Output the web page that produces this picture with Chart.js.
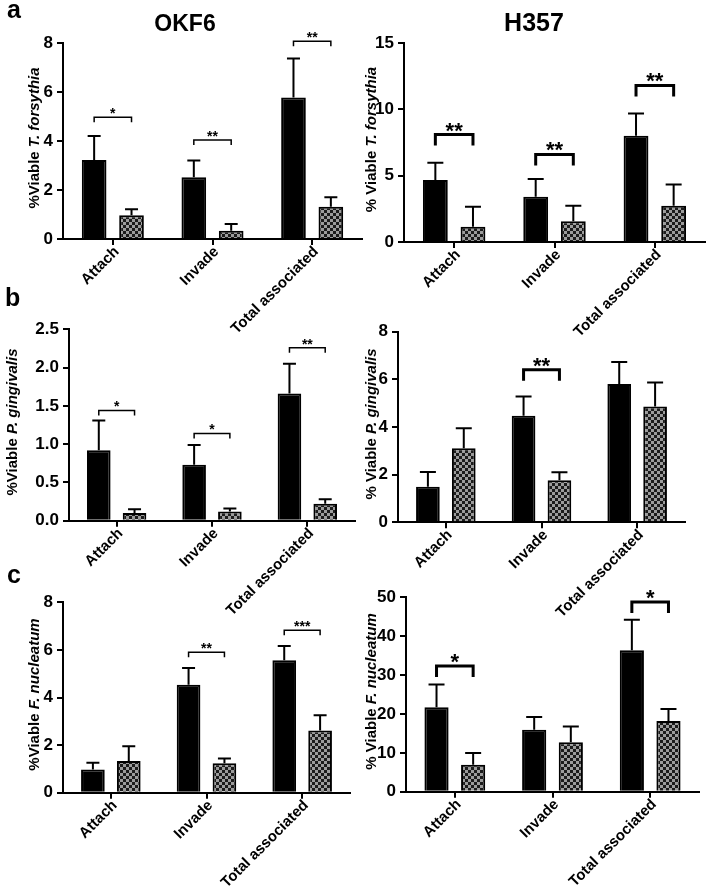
<!DOCTYPE html>
<html><head><meta charset="utf-8">
<script src="https://cdn.jsdelivr.net/npm/chart.js@4.4.1/dist/chart.umd.min.js"></script>
<style>
html,body{margin:0;padding:0;background:#fff;}
#wrap{position:relative;width:708px;height:893px;overflow:hidden;background:#fff;}
canvas{position:absolute;}
.lbl{position:absolute;font-family:'Liberation Sans',Arial,sans-serif;font-weight:bold;color:#000;line-height:1;white-space:nowrap;}
</style></head><body>
<div id="wrap">
<canvas id="cA1"></canvas><canvas id="cA2"></canvas>
<canvas id="cB1"></canvas><canvas id="cB2"></canvas>
<canvas id="cC1"></canvas><canvas id="cC2"></canvas>
<div class="lbl" style="left:7px;top:-3px;font-size:25px">a</div>
<div class="lbl" style="left:5px;top:285px;font-size:25px">b</div>
<div class="lbl" style="left:7px;top:562px;font-size:25px">c</div>
<div class="lbl" style="left:85px;top:12px;width:200px;text-align:center;font-size:23px">OKF6</div>
<div class="lbl" style="left:434px;top:10px;width:200px;text-align:center;font-size:25px">H357</div>
</div>
<script>
const FONT = "'Liberation Sans', Arial, sans-serif";
const categories = ['Attach', 'Invade', 'Total associated'];

// a: T. forsythia
const okf6TfBlack = [3.22, 2.52, 5.78];
const okf6TfBlackErr = [0.98, 0.68, 1.59];
const okf6TfCheck = [0.97, 0.34, 1.32];
const okf6TfCheckErr = [0.24, 0.27, 0.38];
const okf6TfSigCat = [0, 1, 2];
const okf6TfSigY = [4.97, 4.04, 8.07];
const okf6TfSigTxt = ['*', '**', '**'];

const h357TfBlack = [4.67, 3.41, 8.0];
const h357TfBlackErr = [1.30, 1.33, 1.68];
const h357TfCheck = [1.15, 1.56, 2.73];
const h357TfCheckErr = [1.51, 1.17, 1.61];
const h357TfSigCat = [0, 1, 2];
const h357TfSigY = [8.1, 6.6, 11.8];
const h357TfSigTxt = ['**', '**', '**'];

// b: P. gingivalis
const okf6PgBlack = [0.92, 0.73, 1.66];
const okf6PgBlackErr = [0.39, 0.26, 0.39];
const okf6PgCheck = [0.10, 0.12, 0.22];
const okf6PgCheckErr = [0.05, 0.04, 0.06];
const okf6PgSigCat = [0, 1, 2];
const okf6PgSigY = [1.44, 1.14, 2.26];
const okf6PgSigTxt = ['*', '*', '**'];

const h357PgBlack = [1.49, 4.47, 5.80];
const h357PgBlackErr = [0.62, 0.81, 0.93];
const h357PgCheck = [3.11, 1.76, 4.86];
const h357PgCheckErr = [0.84, 0.34, 1.01];
const h357PgSigCat = [1];
const h357PgSigY = [6.4];
const h357PgSigTxt = ['**'];

// c: F. nucleatum
const okf6FnBlack = [0.98, 4.54, 5.56];
const okf6FnBlackErr = [0.28, 0.70, 0.60];
const okf6FnCheck = [1.33, 1.24, 2.61];
const okf6FnCheckErr = [0.62, 0.20, 0.64];
const okf6FnSigCat = [1, 2];
const okf6FnSigY = [5.90, 6.83];
const okf6FnSigTxt = ['**', '***'];

const h357FnBlack = [21.7, 15.95, 36.4];
const h357FnBlackErr = [5.9, 3.25, 7.8];
const h357FnCheck = [6.94, 12.7, 18.2];
const h357FnCheckErr = [3.0, 4.1, 3.1];
const h357FnSigCat = [0, 2];
const h357FnSigY = [32.3, 48.8];
const h357FnSigTxt = ['*', '*'];

// y axis ticks
const yMaxA1 = 8, yStepA1 = 2;
const yMaxA2 = 15, yStepA2 = 5;
const yMaxB1 = 2.5, yStepB1 = 0.5;
const yMaxB2 = 8, yStepB2 = 2;
const yMaxC1 = 8, yStepC1 = 2;
const yMaxC2 = 50, yStepC2 = 10;

function checkerPattern(ctx){
  const c = document.createElement('canvas'); c.width = 6; c.height = 6;
  const g = c.getContext('2d');
  g.fillStyle = '#9c9c9c'; g.fillRect(0,0,6,6);
  g.fillStyle = '#1c1c1c'; g.fillRect(0,0,3,3); g.fillRect(3,3,3,3);
  return ctx.createPattern(c, 'repeat');
}

const annot = {
  id: 'annot',
  afterDatasetsDraw(chart, args, o) {
    const ctx = chart.ctx, ys = chart.scales.y;
    ctx.save();
    ctx.strokeStyle = '#000'; ctx.fillStyle = '#000';
    ctx.lineWidth = 2; ctx.lineCap = 'butt';
    o.errs.forEach((errArr, di) => {
      const meta = chart.getDatasetMeta(di);
      meta.data.forEach((bar, j) => {
        const v = chart.data.datasets[di].data[j];
        const yt = ys.getPixelForValue(v + errArr[j]);
        ctx.beginPath();
        ctx.moveTo(bar.x, bar.y); ctx.lineTo(bar.x, yt);
        ctx.moveTo(bar.x - o.cap/2, yt); ctx.lineTo(bar.x + o.cap/2, yt);
        ctx.stroke();
      });
    });
    // significance brackets
    const m0 = chart.getDatasetMeta(0), m1 = chart.getDatasetMeta(1);
    ctx.lineWidth = o.bw; ctx.lineJoin = 'miter';
    o.sigCat.forEach((ci, k) => {
      const xa = m0.data[ci].x, xb = m1.data[ci].x;
      const y = ys.getPixelForValue(o.sigY[k]);
      ctx.beginPath();
      ctx.moveTo(xa, y + o.leg); ctx.lineTo(xa, y); ctx.lineTo(xb, y); ctx.lineTo(xb, y + o.leg);
      ctx.stroke();
      ctx.font = `bold ${o.starSize}px ${FONT}`;
      ctx.textAlign = 'center'; ctx.textBaseline = 'alphabetic';
      ctx.fillText(o.sigTxt[k], (xa + xb)/2, y + o.starDy);
    });
    // y axis title with italic species
    const ca = chart.chartArea;
    ctx.translate(o.titleX, (ca.top + ca.bottom)/2 + o.titleDy);
    ctx.rotate(-Math.PI/2);
    ctx.textBaseline = 'middle'; ctx.textAlign = 'left';
    const f1 = `bold ${o.titleSize}px ${FONT}`, f2 = `italic bold ${o.titleSize}px ${FONT}`;
    ctx.font = f1; const w1 = ctx.measureText(o.prefix).width;
    ctx.font = f2; const w2 = ctx.measureText(o.species).width;
    const sx = -(w1 + w2)/2;
    ctx.font = f1; ctx.fillText(o.prefix, sx, 0);
    ctx.font = f2; ctx.fillText(o.species, sx + w1, 0);
    ctx.restore();
  }
};

function makePanel(p){
  const cv = document.getElementById(p.id);
  cv.width = p.W; cv.height = p.H;
  cv.style.left = p.L + 'px'; cv.style.top = p.T + 'px';
  cv.style.width = p.W + 'px'; cv.style.height = p.H + 'px';
  const ctx = cv.getContext('2d');
  const yW = p.x0 - p.L, xH = p.T + p.H - p.y1;
  const thin = p.style === 'thin';
  return new Chart(ctx, {
    type: 'bar',
    data: {
      labels: categories,
      datasets: [
        {data: p.black, backgroundColor: '#000', borderColor: '#000', borderWidth: 2,
         categoryPercentage: 0.75, barPercentage: 0.66},
        {data: p.check, backgroundColor: checkerPattern(ctx), borderColor: '#000', borderWidth: 2,
         categoryPercentage: 0.75, barPercentage: 0.66}
      ]
    },
    options: {
      responsive: false, animation: false, devicePixelRatio: 1,
      layout: {padding: {left: 0, bottom: 0, top: p.y0 - p.T, right: p.L + p.W - p.x1}},
      plugins: {
        legend: {display: false}, tooltip: {enabled: false},
        annot: {
          errs: [p.blackErr, p.checkErr], cap: thin ? 13 : 16,
          sigCat: p.sigCat, sigY: p.sigY, sigTxt: p.sigTxt,
          bw: thin ? 1.5 : 3, leg: thin ? 5 : 11,
          starSize: thin ? 14 : 22, starDy: thin ? 1 : 3,
          prefix: p.prefix, species: p.species, titleSize: 15,
          titleX: p.titleX - p.L, titleDy: -3
        }
      },
      scales: {
        x: {
          type: 'category', offset: true,
          grid: {display: true, offset: false, drawOnChartArea: false, drawTicks: true, tickLength: 6, color: '#000', lineWidth: 2},
          border: {display: true, color: '#000', width: 2},
          ticks: {color: '#000', font: {family: FONT, size: 15, weight: 'bold'}, minRotation: 45, maxRotation: 45, autoSkip: false, padding: -2, labelOffset: 4},
          afterFit(s){ s.height = xH; }
        },
        y: {
          min: 0, max: p.yMax,
          ticks: {stepSize: p.yStep, color: '#000', font: {family: FONT, size: 17, weight: 'bold'}, padding: 4,
                  callback: v => Number(v).toFixed(p.dec)},
          grid: {drawOnChartArea: false, drawTicks: true, tickLength: 6, color: '#000', lineWidth: 2},
          border: {display: true, color: '#000', width: 2},
          afterFit(s){ s.width = yW; }
        }
      }
    },
    plugins: [annot]
  });
}

makePanel({id:'cA1', L:0, T:0, W:370, H:350, x0:63, x1:362, y0:43, y1:239,
  black: okf6TfBlack, blackErr: okf6TfBlackErr, check: okf6TfCheck, checkErr: okf6TfCheckErr,
  sigCat: okf6TfSigCat, sigY: okf6TfSigY, sigTxt: okf6TfSigTxt,
  yMax: yMaxA1, yStep: yStepA1, dec: 0, prefix: '%Viable ', species: 'T. forsythia', titleX: 35, style: 'thin'});
makePanel({id:'cA2', L:354, T:0, W:354, H:350, x0:404, x1:705, y0:43, y1:242,
  black: h357TfBlack, blackErr: h357TfBlackErr, check: h357TfCheck, checkErr: h357TfCheckErr,
  sigCat: h357TfSigCat, sigY: h357TfSigY, sigTxt: h357TfSigTxt,
  yMax: yMaxA2, yStep: yStepA2, dec: 0, prefix: '% Viable ', species: 'T. forsythia', titleX: 372, style: 'thick'});
makePanel({id:'cB1', L:0, T:285, W:370, H:345, x0:69, x1:355, y0:329.3, y1:520.7,
  black: okf6PgBlack, blackErr: okf6PgBlackErr, check: okf6PgCheck, checkErr: okf6PgCheckErr,
  sigCat: okf6PgSigCat, sigY: okf6PgSigY, sigTxt: okf6PgSigTxt,
  yMax: yMaxB1, yStep: yStepB1, dec: 1, prefix: '%Viable ', species: 'P. gingivalis', titleX: 13, style: 'thin'});
makePanel({id:'cB2', L:354, T:285, W:354, H:345, x0:398, x1:685, y0:331.7, y1:522.3,
  black: h357PgBlack, blackErr: h357PgBlackErr, check: h357PgCheck, checkErr: h357PgCheckErr,
  sigCat: h357PgSigCat, sigY: h357PgSigY, sigTxt: h357PgSigTxt,
  yMax: yMaxB2, yStep: yStepB2, dec: 0, prefix: '% Viable ', species: 'P. gingivalis', titleX: 372, style: 'thick'});
makePanel({id:'cC1', L:0, T:560, W:370, H:333, x0:63, x1:350, y0:602.3, y1:792.7,
  black: okf6FnBlack, blackErr: okf6FnBlackErr, check: okf6FnCheck, checkErr: okf6FnCheckErr,
  sigCat: okf6FnSigCat, sigY: okf6FnSigY, sigTxt: okf6FnSigTxt,
  yMax: yMaxC1, yStep: yStepC1, dec: 0, prefix: '%Viable ', species: 'F. nucleatum', titleX: 35, style: 'thin'});
makePanel({id:'cC2', L:354, T:560, W:354, H:333, x0:406, x1:699, y0:597.3, y1:791.7,
  black: h357FnBlack, blackErr: h357FnBlackErr, check: h357FnCheck, checkErr: h357FnCheckErr,
  sigCat: h357FnSigCat, sigY: h357FnSigY, sigTxt: h357FnSigTxt,
  yMax: yMaxC2, yStep: yStepC2, dec: 0, prefix: '% Viable ', species: 'F. nucleatum', titleX: 372, style: 'thick'});
</script>
</body></html>
